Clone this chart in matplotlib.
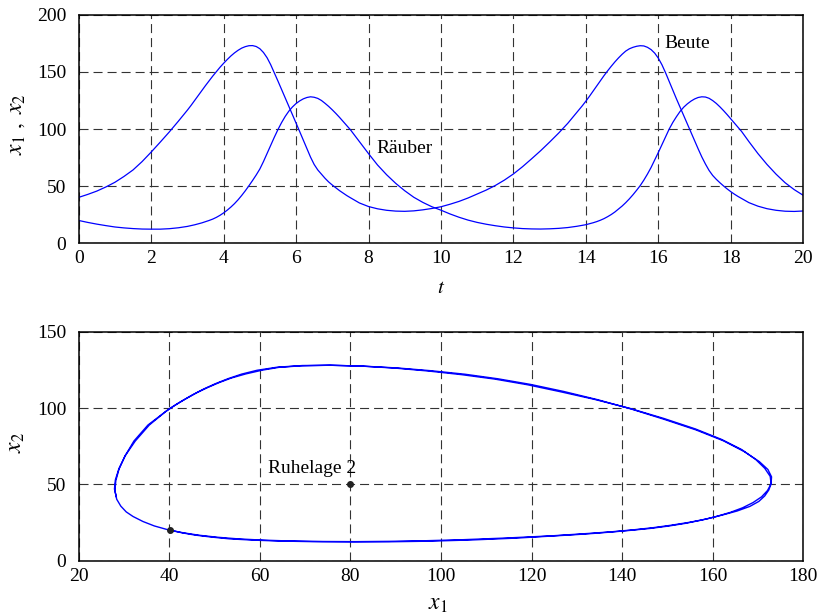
import matplotlib
matplotlib.use("Agg")
import matplotlib.pyplot as plt

# ---------------- data ----------------
t = [0.0, 0.25, 0.5, 0.75, 1.0, 1.25, 1.5, 1.75, 2.0, 2.25, 2.5, 2.75, 3.0,
     3.1, 3.2, 3.3, 3.4, 3.5, 3.6, 3.7, 3.8, 3.9, 4.0, 4.1, 4.2, 4.3, 4.4, 4.5,
     4.6, 4.7, 4.8, 4.9, 5.0, 5.1, 5.2, 5.3, 5.4, 5.5, 5.6, 5.7, 5.8, 5.9, 6.0,
     6.1, 6.2, 6.3, 6.4, 6.5, 6.6, 6.7, 6.8, 6.9, 7.0, 7.1, 7.2, 7.3, 7.4, 7.5,
     7.75, 8.0, 8.25, 8.5, 8.75, 9.0, 9.25, 9.5, 9.75, 10.0, 10.25, 10.5, 10.75,
     11.0, 11.25, 11.5, 11.75, 12.0, 12.25, 12.5, 12.75, 13.0, 13.25, 13.5, 13.75,
     13.9, 14.0, 14.1, 14.2, 14.3, 14.4, 14.5, 14.6, 14.7, 14.8, 14.9, 15.0, 15.1,
     15.2, 15.3, 15.4, 15.5, 15.6, 15.7, 15.8, 15.9, 16.0, 16.1, 16.2, 16.3, 16.4,
     16.5, 16.6, 16.7, 16.8, 16.9, 17.0, 17.1, 17.2, 17.3, 17.4, 17.5, 17.6, 17.7,
     17.8, 17.9, 18.0, 18.1, 18.2, 18.3,
     18.5, 18.75, 19.0, 19.25, 19.5, 19.75, 20.0]

# Beute (prey) x1
beute = [40.2, 42.8, 45.7, 49.3, 53.4, 58.5, 64.2, 71.5, 79.8, 88.5, 97.4, 106.8, 116.5,
         120.6, 124.9, 129.3, 133.7, 138.0, 142.2, 146.3, 150.2, 154.0,
         157.5, 160.8, 163.9, 166.6, 168.9, 170.8, 172.1, 172.9, 173.0, 172.2,
         170.3, 167.0, 162.4, 156.3, 149.2, 142.0, 134.6, 127.1, 119.8, 112.6,
         105.3, 97.8, 90.4, 82.8, 75.4, 69.0, 64.2, 60.6, 56.9, 53.7,
         51.0, 48.5, 46.1, 43.9, 41.8, 39.9,
         35.3, 32.2, 30.2, 28.9, 28.2, 28.0, 28.4, 29.3, 30.5, 32.0, 34.2, 36.7, 39.7,
         43.1, 46.6, 50.6, 55.3, 60.7, 67.0, 73.9, 81.0, 88.6, 96.5, 105.0, 114.5,
         120.3,
         124.4, 128.7, 133.2, 137.8, 142.3, 146.7, 150.9, 154.9, 158.7, 162.2,
         165.4, 168.2, 170.2, 171.5, 172.4, 172.9, 172.7, 171.5, 169.5, 166.4,
         162.0, 156.2, 149.2, 141.6, 133.9, 126.4, 119.1, 111.9, 104.6, 97.2,
         89.9, 82.6, 75.6, 69.4, 63.8, 59.4, 56.0, 53.0, 50.2, 47.6,
         45.2, 43.0, 41.0, 39.2,
         35.6, 32.5, 30.3, 28.9, 28.1, 27.9, 28.3]

# Raeuber (predator) x2
raeuber = [20.0, 18.3, 16.8, 15.5, 14.3, 13.5, 12.9, 12.5, 12.4, 12.4, 12.8, 13.6, 14.8,
           15.5, 16.2, 17.0, 17.9, 18.9, 20.0, 21.2, 22.7, 24.5,
           26.6, 29.0, 31.7, 34.7, 38.1, 41.9, 46.0, 50.4, 55.0, 59.8,
           65.0, 71.5, 78.6, 85.8, 92.8, 99.5, 105.6, 111.0, 115.6, 119.3,
           122.3, 124.6, 126.4, 127.6, 128.2, 127.8, 126.8, 125.0, 122.5, 119.8,
           116.8, 113.6, 110.2, 106.6, 103.0, 99.4,
           89.0, 78.5, 68.5, 60.0, 52.5, 46.0, 40.3, 35.8, 32.0, 29.0, 25.7, 22.8, 20.3,
           18.3, 16.7, 15.4, 14.3, 13.5, 12.9, 12.6, 12.5, 12.7, 13.1, 13.8, 14.9,
           15.7,
           16.3, 17.1, 18.0, 19.0, 20.2, 21.6, 23.3, 25.2, 27.4, 30.0,
           32.6, 35.6, 38.9, 42.5, 46.4, 50.5, 55.3, 60.6, 66.4, 72.9,
           79.5, 86.4, 93.3, 100.0, 105.8, 110.8, 115.4, 119.1, 122.0, 124.4,
           126.3, 127.6, 128.2, 128.0, 126.9, 124.9, 122.4, 119.4, 116.1, 112.6,
           108.9, 105.1, 101.4, 97.8,
           89.0, 78.5, 69.0, 60.5, 53.0, 47.0, 42.0]

ruhelage = [80, 50]          # equilibrium point (x1, x2)
x_ticks_top = [0, 2, 4, 6, 8, 10, 12, 14, 16, 18, 20]
y_ticks_top = [0, 50, 100, 150, 200]
x_ticks_bot = [20, 40, 60, 80, 100, 120, 140, 160, 180]
y_ticks_bot = [0, 50, 100, 150]

# ---------------- style ----------------
plt.rcParams['font.family'] = ['Liberation Serif', 'DejaVu Serif']
plt.rcParams['mathtext.fontset'] = 'stix'
plt.rcParams['lines.scale_dashes'] = False

FS = 14
line_col = '#0000ff'
grid_kw = dict(color='#333333', linestyle=(0, (6.5, 3.6)), linewidth=0.8)

fig = plt.figure(figsize=(8.23, 6.14), dpi=100)
ax1 = fig.add_axes([0.0956, 0.6037, 0.8804, 0.3723])
ax2 = fig.add_axes([0.0956, 0.0868, 0.8804, 0.3725])

for ax in (ax1, ax2):
    ax.grid(True, **grid_kw)
    for s in ax.spines.values():
        s.set_linewidth(1.1)
        s.set_color('black')
    ax.tick_params(axis='both', length=0, labelsize=FS)
    ax.tick_params(axis='y', pad=9)
    ax.tick_params(axis='x', pad=5)

# top: time series
ax1.plot(t, beute, color=line_col, lw=0.9)
ax1.plot(t, raeuber, color=line_col, lw=0.9)
ax1.set_xlim(0, 20)
ax1.set_ylim(0, 200)
ax1.set_xticks(x_ticks_top)
ax1.set_yticks(y_ticks_top)
ax1.set_xlabel(r'$t$', fontsize=FS + 1)
ax1.xaxis.set_label_coords(0.5, -0.155)
ax1.set_ylabel(r'$x_1\ ,\ x_2$', fontsize=FS + 3)
ax1.yaxis.set_label_coords(-0.072, 0.52)
ax1.text(16.18, 175, 'Beute', fontsize=FS, ha='left', va='center')
ax1.text(8.22, 83, 'Räuber', fontsize=FS, ha='left', va='center')

# bottom: phase portrait
ax2.plot(beute, raeuber, color=line_col, lw=1.0)
ax2.plot([beute[0]], [raeuber[0]], 'o', color='#222222', ms=4, zorder=5)
ax2.plot([ruhelage[0]], [ruhelage[1]], 'o', color='#222222', ms=4, zorder=5)
ax2.text(61.8, 60.6, 'Ruhelage 2', fontsize=FS, ha='left', va='center')
ax2.set_xlim(20, 180)
ax2.set_ylim(0, 150)
ax2.set_xticks(x_ticks_bot)
ax2.set_yticks(y_ticks_bot)
ax2.set_xlabel(r'$x_1$', fontsize=FS + 3)
ax2.xaxis.set_label_coords(0.496, -0.145)
ax2.set_ylabel(r'$x_2$', fontsize=FS + 3)
ax2.yaxis.set_label_coords(-0.072, 0.515)

fig.savefig('out.png', dpi=100)
